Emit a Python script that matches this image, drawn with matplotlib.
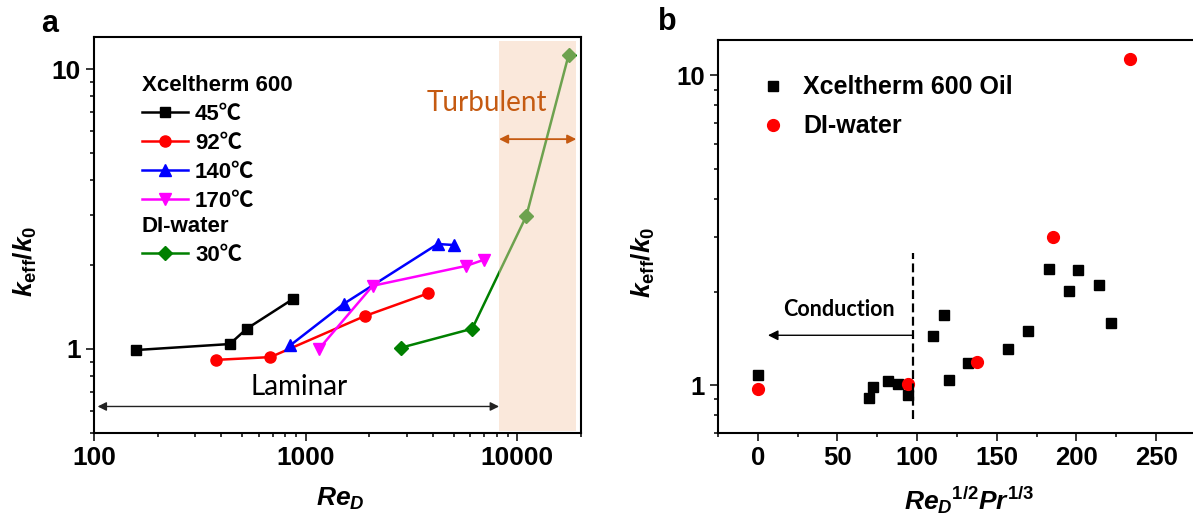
import numpy as np
import matplotlib
matplotlib.use("Agg")
import matplotlib.pyplot as plt
from matplotlib.ticker import LogLocator, FuncFormatter, MultipleLocator, NullFormatter
from matplotlib.font_manager import FontProperties

plt.rcParams['font.family'] = ['Liberation Sans', 'Noto Sans CJK SC', 'DejaVu Sans']
plt.rcParams['font.weight'] = 'bold'
plt.rcParams['mathtext.fontset'] = 'custom'
plt.rcParams['mathtext.it'] = 'Liberation Sans:bold:italic'
plt.rcParams['mathtext.rm'] = 'Liberation Sans:bold'
plt.rcParams['mathtext.bf'] = 'Liberation Sans:bold'

# ── Data: panel a (Re_D vs k_eff/k0) ─────────────────────────────────────────
re_45 = [158, 438, 527, 875]
k_45 = [0.99, 1.04, 1.18, 1.51]
re_92 = [378, 682, 1905, 3800]
k_92 = [0.913, 0.934, 1.31, 1.58]
re_140 = [847, 1517, 4207, 5030]
k_140 = [1.03, 1.45, 2.37, 2.35]
re_170 = [1157, 2073, 5747, 6935]
k_170 = [1.00, 1.68, 1.98, 2.08]
re_w30 = [2833, 6122, 11040, 17460]
k_w30 = [1.01, 1.18, 2.99, 11.2]

# ── Data: panel b (Re_D^1/2 Pr^1/3 vs k_eff/k0) ──────────────────────────────
oil_x = [0, 69.9, 72.2, 81.7, 87.7, 94.3, 109.8, 116.9, 120, 131.7,
         156.8, 169.7, 183, 195.3, 200.8, 214.4, 221.5]
oil_y = [1.08, 0.912, 0.99, 1.03, 1.007, 0.928, 1.44, 1.69, 1.04, 1.18,
         1.31, 1.50, 2.37, 2.01, 2.35, 2.10, 1.59]
water_x = [0, 94.3, 137.8, 185.1, 233.8]
water_y = [0.975, 1.01, 1.186, 3.01, 11.3]

TURB_START, TURB_END = 8200, 19000
LAM_START = 104
COND_X, COND_END = 97.5, 6.4

ORANGE = "#C55A11"
LEG_FS = 16

fig = plt.figure(figsize=(11.93, 5.23), dpi=100)
ax1 = fig.add_axes([0.0788, 0.1721, 0.4082, 0.7566])
ax2 = fig.add_axes([0.6018, 0.1715, 0.4007, 0.752])


def style_axis(ax, fs):
    for sp in ax.spines.values():
        sp.set_linewidth(1.5)
    ax.spines["right"].set_visible(False)
    ax.tick_params(which="major", direction="out", length=5.5, width=1.1,
                   labelsize=fs, pad=4)
    ax.tick_params(which="minor", direction="out", length=3, width=1.1)
    for lab in ax.get_xticklabels() + ax.get_yticklabels():
        lab.set_fontweight("bold")


def fmt(v, _):
    return f"{v:g}"


# ── Panel a ──────────────────────────────────────────────────────────────────
lw = 1.8
l45, = ax1.plot(re_45, k_45, "-s", color="black", lw=lw, ms=7, label="45℃")
l92, = ax1.plot(re_92, k_92, "-o", color="red", lw=lw, ms=8, label="92℃")
l140, = ax1.plot(re_140, k_140, "-^", color="blue", lw=lw, ms=8.5, label="140℃")
l170, = ax1.plot(re_170, k_170, "-v", color="magenta", lw=lw, ms=8.5, label="170℃")
lw30, = ax1.plot(re_w30, k_w30, "-D", color="green", lw=lw, ms=7, label="30℃")

ax1.set_xscale("log")
ax1.set_yscale("log")
ax1.set_xlim(100, 20000)
ax1.set_ylim(0.5, 13)
ax1.axvspan(TURB_START, TURB_END, ymin=0.006, ymax=0.991,
            facecolor="#F4CCB0", alpha=0.45, lw=0, zorder=5)

ax1.xaxis.set_major_locator(LogLocator(base=10))
ax1.xaxis.set_minor_locator(LogLocator(base=10, subs=np.arange(2, 10)))
ax1.xaxis.set_major_formatter(FuncFormatter(fmt))
ax1.xaxis.set_minor_formatter(NullFormatter())
ax1.yaxis.set_major_locator(LogLocator(base=10))
ax1.yaxis.set_minor_locator(LogLocator(base=10, subs=np.arange(2, 10)))
ax1.yaxis.set_major_formatter(FuncFormatter(fmt))
ax1.yaxis.set_minor_formatter(NullFormatter())
style_axis(ax1, 19)
ax1.spines["right"].set_visible(True)

ax1.set_xlabel(r"$Re_D$", fontsize=19)
ax1.xaxis.set_label_coords(0.505, -0.134)
ax1.set_ylabel(r"$k_{\mathrm{eff}}/k_0$", fontsize=19)
ax1.yaxis.set_label_coords(-0.112, 0.435)

# Turbulent / laminar annotations
ax1.text(7150, 7.1, "Turbulent", color=ORANGE, fontsize=20, family="Lato",
         fontweight="normal", ha="center", va="baseline", zorder=6)
ax1.annotate("", xy=(TURB_END, 5.62), xytext=(TURB_START, 5.62),
             arrowprops=dict(arrowstyle="<|-|>", color=ORANGE, lw=1.3,
                             mutation_scale=13, shrinkA=0, shrinkB=0), zorder=6)
ax1.text(929, 0.682, "Laminar", color="black", fontsize=20, family="Lato",
         fontweight="normal", ha="center", va="baseline")
ax1.annotate("", xy=(LAM_START, 0.622), xytext=(TURB_START, 0.622),
             arrowprops=dict(arrowstyle="<|-|>", color="#222222", lw=1.0,
                             mutation_scale=13, shrinkA=0, shrinkB=0))

leg_prop = FontProperties(family=["Liberation Sans", "Noto Sans CJK SC"],
                          weight="bold", size=LEG_FS)
leg_title = {"weight": "bold", "size": LEG_FS}
leg_kw = dict(loc="upper left", frameon=False, prop=leg_prop,
              title_fontproperties=leg_title, alignment="left",
              handlelength=2.1, handletextpad=0.3, labelspacing=0.36,
              borderpad=0, borderaxespad=0)
leg1 = ax1.legend(handles=[l45, l92, l140, l170], title="Xceltherm 600",
                  bbox_to_anchor=(0.098, 0.905), **leg_kw)
ax1.add_artist(leg1)
ax1.legend(handles=[lw30], title="DI-water",
           bbox_to_anchor=(0.098, 0.548), **leg_kw)

# ── Panel b ──────────────────────────────────────────────────────────────────
ax2.plot(oil_x, oil_y, "s", color="black", ms=7.5, ls="none",
         label="Xceltherm 600 Oil")
ax2.plot(water_x, water_y, "o", color="red", ms=8.5, ls="none",
         label="DI-water")
ax2.set_yscale("log")
ax2.set_xlim(-25, 275)
ax2.set_ylim(0.7, 13)
ax2.xaxis.set_major_locator(MultipleLocator(50))
ax2.xaxis.set_minor_locator(MultipleLocator(25))
ax2.yaxis.set_major_locator(LogLocator(base=10))
ax2.yaxis.set_minor_locator(LogLocator(base=10, subs=np.arange(2, 10)))
ax2.yaxis.set_major_formatter(FuncFormatter(fmt))
ax2.yaxis.set_minor_formatter(NullFormatter())
style_axis(ax2, 18.5)

ax2.vlines(COND_X, 0.78, 2.67, colors="black", lw=1.6, linestyles=(0, (4, 2)))
ax2.annotate("", xy=(COND_END, 1.45), xytext=(COND_X, 1.45),
             arrowprops=dict(arrowstyle="-|>", color="black", lw=1.0,
                             mutation_scale=15, shrinkA=0, shrinkB=0))
ax2.text(51, 1.75, "Conduction", fontsize=15.5, family="Lato", fontweight="bold",
         ha="center", va="center")

ax2.set_xlabel(r"$Re_D{}^{\mathit{1/2}}Pr^{\mathit{1/3}}$", fontsize=19)
ax2.xaxis.set_label_coords(0.526, -0.13)
ax2.set_ylabel(r"$k_{\mathrm{eff}}/k_0$", fontsize=19)
ax2.yaxis.set_label_coords(-0.128, 0.436)
ax2.legend(loc="upper left", bbox_to_anchor=(0.095, 0.91), frameon=False,
           prop=FontProperties(weight="bold", size=18), handlelength=0.8,
           handletextpad=0.8, labelspacing=0.6, borderpad=0, borderaxespad=0)

fig.text(0.042, 0.955, "a", fontsize=22, fontweight="bold", ha="center", va="center")
fig.text(0.559, 0.958, "b", fontsize=22, fontweight="bold", ha="center", va="center")

fig.savefig("out.png", dpi=100)
